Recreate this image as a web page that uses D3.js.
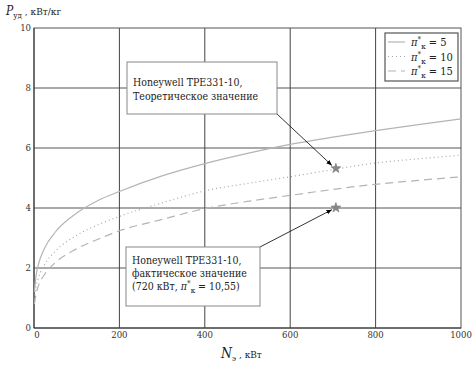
<!DOCTYPE html>
<html>
<head>
<meta charset="utf-8">
<script src="https://cdn.jsdelivr.net/npm/d3@7"></script>
<style>
  body { margin: 0; background: #fff; }
  svg text { font-family: "DejaVu Serif Condensed", "DejaVu Serif", serif; }
</style>
</head>
<body>
<div id="chart"></div>
<script>
// power N_e, kW (sample points)
const power = [1, 5, 10, 25, 50, 100, 150, 200, 300, 400, 500, 600, 700, 800, 900, 1000];
// specific power P_ud, kW/kg for each pressure ratio
const pi5  = [1.2, 1.76, 2.1, 2.67, 3.2, 3.83, 4.25, 4.55, 5.07, 5.48, 5.82, 6.12, 6.36, 6.58, 6.78, 6.97];
const pi10 = [0.95, 1.38, 1.66, 2.12, 2.56, 3.09, 3.44, 3.72, 4.17, 4.57, 4.82, 5.04, 5.28, 5.5, 5.64, 5.76];
const pi15 = [0.8, 1.14, 1.39, 1.79, 2.18, 2.64, 2.96, 3.24, 3.62, 3.98, 4.22, 4.42, 4.62, 4.79, 4.92, 5.04];
const seriesNames = ["5", "10", "15"];
// star markers: theoretical and actual values for Honeywell TPE331-10
const starX = [707, 707];
const starY = [5.32, 4.01];
const xTicks = [0, 200, 400, 600, 800, 1000];
const yTicks = [0, 2, 4, 6, 8, 10];

const width = 472, height = 377;
const margin = {top: 28, right: 11, bottom: 49, left: 34};

const svg = d3.select("#chart").append("svg")
  .attr("width", width).attr("height", height);

const x = d3.scaleLinear().domain([0, 1000]).range([margin.left, width - margin.right]);
const y = d3.scaleLinear().domain([0, 10]).range([height - margin.bottom, margin.top]);

// grid
svg.append("g").selectAll("line").data(yTicks.slice(1, -1)).enter().append("line")
  .attr("x1", x(0)).attr("x2", x(1000))
  .attr("y1", d => y(d)).attr("y2", d => y(d))
  .attr("stroke", "#555").attr("stroke-width", 1);
svg.append("g").selectAll("line").data(xTicks.slice(1, -1)).enter().append("line")
  .attr("y1", y(0)).attr("y2", y(10))
  .attr("x1", d => x(d)).attr("x2", d => x(d))
  .attr("stroke", "#444").attr("stroke-width", 1);

// frame
svg.append("rect")
  .attr("x", x(0)).attr("y", y(10))
  .attr("width", x(1000) - x(0)).attr("height", y(0) - y(10))
  .attr("fill", "none").attr("stroke", "#555").attr("stroke-width", 1);
svg.append("line").attr("x1", x(0)).attr("x2", x(0)).attr("y1", y(0)).attr("y2", y(10))
  .attr("stroke", "#333");
svg.append("line").attr("x1", x(0)).attr("x2", x(1000)).attr("y1", y(0)).attr("y2", y(0))
  .attr("stroke", "#333");

// tick labels
svg.append("g").selectAll("text").data(yTicks).enter().append("text")
  .attr("x", x(0) - 3).attr("y", d => y(d) + 3)
  .attr("text-anchor", "end").attr("font-size", 9.5).attr("fill", "#333")
  .text(d => d);
svg.append("g").selectAll("text").data(xTicks).enter().append("text")
  .attr("x", d => d === 0 ? x(d) + 3 : x(d)).attr("y", y(0) + 10)
  .attr("text-anchor", "middle").attr("font-size", 9.5).attr("fill", "#333")
  .text(d => d);

// curves
const styles = [
  {data: pi5, color: "#b4b4b4", dash: null},
  {data: pi10, color: "#a8a8a8", dash: "1,3"},
  {data: pi15, color: "#b4b4b4", dash: "8,5"}
];
const line = d3.line().x(d => x(d[0])).y(d => y(d[1])).curve(d3.curveMonotoneX);
svg.append("g").selectAll("path").data(styles).enter().append("path")
  .attr("d", s => line(power.map((p, i) => [p, s.data[i]])))
  .attr("fill", "none")
  .attr("stroke", s => s.color)
  .attr("stroke-width", 1.2)
  .attr("stroke-dasharray", s => s.dash);

// stars
const star = d3.symbol().type(d3.symbolStar).size(30);
svg.append("g").selectAll("path").data(starX).enter().append("path")
  .attr("d", star)
  .attr("transform", (d, i) => `translate(${x(d)},${y(starY[i])})`)
  .attr("fill", "#888").attr("stroke", "#777").attr("stroke-width", 0.6);

// arrow marker
svg.append("defs").append("marker")
  .attr("id", "arr").attr("viewBox", "0 0 10 10")
  .attr("refX", 10).attr("refY", 5)
  .attr("markerWidth", 7).attr("markerHeight", 7)
  .attr("orient", "auto")
  .append("path").attr("d", "M0,1 L10,5 L0,9 z").attr("fill", "#000");

// annotation boxes
function box(bx, by, bw, bh, lines, lineGap, firstBase, fs) {
  svg.append("rect").attr("x", bx).attr("y", by).attr("width", bw).attr("height", bh)
    .attr("fill", "#fff").attr("stroke", "#888").attr("stroke-width", 1);
  lines.forEach((parts, i) => {
    const t = svg.append("text").attr("x", bx + 6).attr("y", by + firstBase + i * lineGap)
      .attr("font-size", fs).attr("fill", "#222");
    parts.forEach(p => {
      const s = t.append("tspan").text(p.t);
      if (p.it) s.attr("font-style", "italic");
      if (p.sup) s.attr("font-size", 8).attr("dy", -4);
      if (p.sub) s.attr("font-size", 8).attr("dy", p.dy);
      if (p.back) s.attr("dy", p.back);
    });
  });
}

// arrows drawn first so boxes cover their ends
svg.append("line")
  .attr("x1", 277).attr("y1", 114)
  .attr("x2", x(starX[0]) - 4).attr("y2", y(starY[0]) - 3)
  .attr("stroke", "#000").attr("stroke-width", 0.8).attr("marker-end", "url(#arr)");
svg.append("line")
  .attr("x1", 260).attr("y1", 247)
  .attr("x2", x(starX[1]) - 4).attr("y2", y(starY[1]) + 2)
  .attr("stroke", "#000").attr("stroke-width", 0.8).attr("marker-end", "url(#arr)");

box(127, 62, 150, 52, [
  [{t: "Honeywell TPE331-10,"}],
  [{t: "Теоретическое значение"}]
], 14, 24, 10.5);

box(126, 247, 134, 59, [
  [{t: "Honeywell TPE331-10,"}],
  [{t: "фактическое значение"}],
  [{t: "(720 кВт, "}, {t: "π", it: true}, {t: "*", sup: true}, {t: "к", sub: true, dy: 7},
   {t: " = 10,55)", back: -3}]
], 13, 17, 10.5);

// legend
const lg = svg.append("g");
lg.append("rect").attr("x", 385).attr("y", 33).attr("width", 73).attr("height", 48)
  .attr("fill", "#fff").attr("stroke", "#555").attr("stroke-width", 1.2);
styles.forEach((s, i) => {
  const ly = 42 + i * 14.5;
  lg.append("line").attr("x1", 388).attr("x2", 405).attr("y1", ly).attr("y2", ly)
    .attr("stroke", s.color).attr("stroke-width", 1.2).attr("stroke-dasharray", s.dash);
  const t = lg.append("text").attr("x", 411).attr("y", ly + 4).attr("font-size", 11).attr("fill", "#222");
  t.append("tspan").attr("font-style", "italic").text("π");
  t.append("tspan").attr("font-size", 8).attr("dy", -4).text("*");
  t.append("tspan").attr("font-size", 8).attr("dy", 7).text("к");
  t.append("tspan").attr("dy", -3).text(" = " + seriesNames[i]);
});

// axis titles
const yt = svg.append("text").attr("x", 6).attr("y", 15).attr("font-size", 10).attr("fill", "#222");
yt.append("tspan").attr("font-style", "italic").attr("font-size", 12).text("P");
yt.append("tspan").attr("font-size", 8).attr("dy", 3).text("уд");
yt.append("tspan").attr("dy", -3).text(" , кВт/кг");

const xt = svg.append("text").attr("x", 221).attr("y", 358).attr("font-size", 10).attr("fill", "#222");
xt.append("tspan").attr("font-style", "italic").attr("font-size", 14).text("N");
xt.append("tspan").attr("font-size", 8).attr("dy", 3).text("э");
xt.append("tspan").attr("dy", -3).text(" , кВт");
</script>
</body>
</html>
